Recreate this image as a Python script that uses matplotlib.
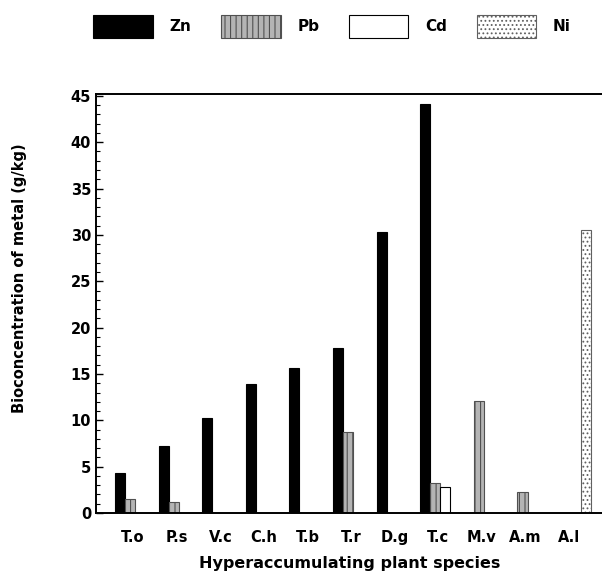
import numpy as np
import matplotlib
matplotlib.use("Agg")
import matplotlib.pyplot as plt
from matplotlib.ticker import MultipleLocator

plt.rcParams["font.family"] = "DejaVu Sans"
plt.rcParams["font.weight"] = "bold"
plt.rcParams["hatch.linewidth"] = 0.8

species = ["T.o", "P.s", "V.c", "C.h", "T.b", "T.r", "D.g", "T.c", "M.v", "A.m", "A.l"]
zn = [4.3, 7.2, 10.2, 13.9, 15.6, 17.8, 30.3, 44.1, 0, 0, 0]
pb = [1.5, 1.2, 0, 0, 0, 8.7, 0, 3.2, 12.1, 2.3, 0]
cd = [0, 0, 0, 0, 0, 0, 0, 2.8, 0, 0, 0]
ni = [0, 0, 0, 0, 0, 0, 0, 0, 0, 0, 30.5]

x = np.arange(len(species))
w = 0.23

fig = plt.figure(figsize=(6.02, 5.8), dpi=100)
ax = fig.add_axes([0.1595, 0.1155, 0.8439, 0.7224])

b1 = ax.bar(x, zn, w, color="black", edgecolor="black", linewidth=0.8, label="Zn")
b2 = ax.bar(x + w, pb, w, color="#b4b4b4", edgecolor="#505050", hatch="|||", linewidth=0.8, label="Pb")
b3 = ax.bar(x + 2 * w, cd, w, color="white", edgecolor="black", linewidth=0.8, label="Cd")
b4 = ax.bar(x + 3 * w, ni, w, color="white", edgecolor="#606060", hatch="....", linewidth=0.8, label="Ni")

ax.set_xlim(-0.55, 11.1)
ax.set_ylim(0, 45.2)
ax.set_xticks(x + 0.3)
ax.set_xticklabels(species, fontsize=10.5, fontweight="bold")
ax.tick_params(axis="x", length=0, pad=12)

ax.yaxis.set_major_locator(MultipleLocator(5))
ax.yaxis.set_minor_locator(MultipleLocator(1))
ax.tick_params(axis="y", which="major", direction="in", length=5, width=1, labelsize=10.5)
ax.tick_params(axis="y", which="minor", direction="in", length=3, width=0.8)
for lab in ax.get_yticklabels():
    lab.set_fontweight("bold")

for s in ["left", "bottom", "top"]:
    ax.spines[s].set_linewidth(1.4)
ax.spines["right"].set_visible(False)

ax.set_ylabel("Bioconcentration of metal (g/kg)", fontsize=10.5, fontweight="bold")
ax.yaxis.set_label_coords(-0.135, 0.56)
ax.set_xlabel("Hyperaccumulating plant species", fontsize=11.5, fontweight="bold", labelpad=8)

fig.legend(handles=[b1, b2, b3, b4], labels=["Zn", "Pb", "Cd", "Ni"], ncol=4, frameon=False,
           loc="upper left", bbox_to_anchor=(0.137, 0.993), fontsize=11,
           handlelength=3.9, handleheight=2.0, handletextpad=1.1, columnspacing=1.93,
           borderaxespad=0.3)

fig.savefig("out.png", dpi=100)
